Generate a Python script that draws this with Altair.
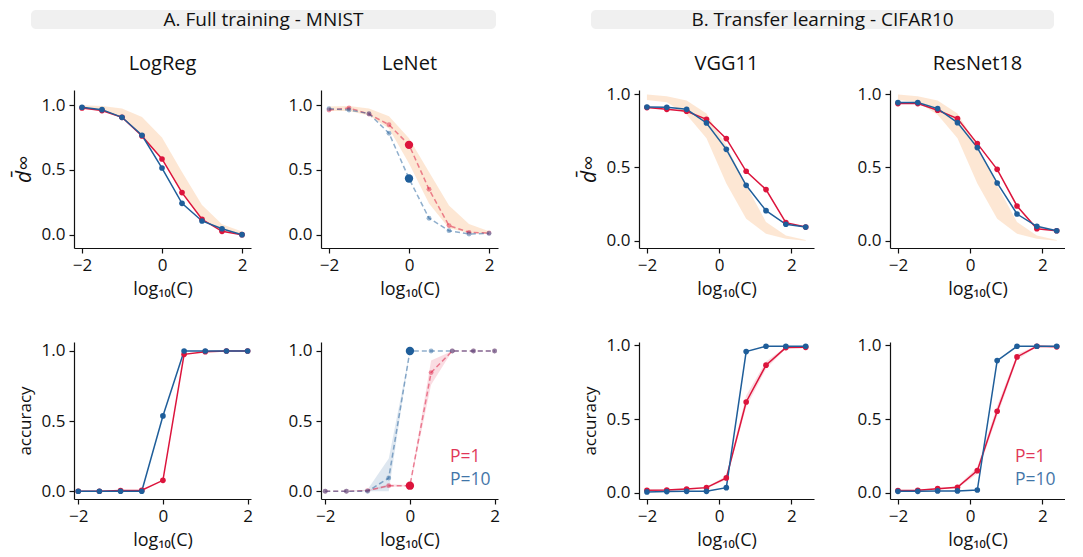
import altair as alt
import pandas as pd

FONT = "Open Sans"
RED = "#dc143c"
BLUE = "#1f5e9a"
ORANGE = "#fde4cf"
HEADER_BG = "#f0f0f0"

# x positions (log10 C)
xA = [-2, -1.5, -1, -0.5, 0, 0.5, 1, 1.5, 2]
xB = [-2, -1.45, -0.9, -0.35, 0.2, 0.75, 1.3, 1.85, 2.4]

# ---- A. Full training - MNIST ----
logreg_d_p1 = [0.979, 0.959, 0.907, 0.763, 0.585, 0.325, 0.119, 0.026, 0.0]
logreg_d_p10 = [0.985, 0.966, 0.907, 0.768, 0.515, 0.242, 0.106, 0.046, 0.0]
logreg_band_lo = [0.975, 0.955, 0.9, 0.76, 0.58, 0.32, 0.11, 0.03, 0.0]
logreg_band_hi = [1.0, 0.995, 0.975, 0.91, 0.75, 0.485, 0.23, 0.08, 0.025]

lenet_d_p1 = [0.964, 0.979, 0.932, 0.849, 0.694, 0.351, 0.07, 0.018, 0.013]
lenet_d_p10 = [0.974, 0.964, 0.935, 0.784, 0.434, 0.127, 0.031, 0.005, 0.01]
lenet_band_lo = [0.955, 0.955, 0.92, 0.82, 0.55, 0.24, 0.05, 0.012, 0.008]
lenet_band_hi = [0.99, 0.995, 0.975, 0.915, 0.745, 0.485, 0.226, 0.083, 0.026]

logreg_acc_p1 = [0.0, 0.0, 0.005, 0.007, 0.078, 0.976, 0.995, 1.0, 1.0]
logreg_acc_p10 = [0.0, 0.0, 0.0, 0.0, 0.537, 1.0, 1.0, 1.0, 1.0]

lenet_acc_p1 = [0.0, 0.0, 0.005, 0.04, 0.04, 0.846, 1.0, 1.0, 1.0]
lenet_acc_p10 = [0.0, 0.0, 0.0, 0.095, 1.0, 1.0, 1.0, 1.0, 1.0]
lenet_acc_p1_lo = [0.0, 0.0, 0.0, 0.03, 0.035, 0.76, 1.0, 1.0, 1.0]
lenet_acc_p1_hi = [0.0, 0.0, 0.01, 0.05, 0.045, 0.933, 1.0, 1.0, 1.0]
lenet_acc_p10_lo = [0.0, 0.0, 0.0, 0.0, 1.0, 1.0, 1.0, 1.0, 1.0]
lenet_acc_p10_hi = [0.0, 0.0, 0.012, 0.233, 1.0, 1.0, 1.0, 1.0, 1.0]

# ---- B. Transfer learning - CIFAR10 ----
cifar_band_lo = [0.96, 0.945, 0.86, 0.70, 0.39, 0.15, 0.048, 0.014, 0.0]
cifar_band_hi = [0.998, 0.986, 0.957, 0.868, 0.651, 0.378, 0.128, 0.036, 0.005]

vgg_d_p1 = [0.909, 0.897, 0.884, 0.829, 0.697, 0.474, 0.349, 0.123, 0.093]
vgg_d_p10 = [0.913, 0.911, 0.897, 0.804, 0.624, 0.378, 0.205, 0.112, 0.093]
resnet_d_p1 = [0.936, 0.936, 0.891, 0.834, 0.663, 0.487, 0.237, 0.082, 0.068]
resnet_d_p10 = [0.943, 0.943, 0.902, 0.806, 0.636, 0.394, 0.182, 0.098, 0.068]

vgg_acc_p1 = [0.018, 0.02, 0.027, 0.036, 0.102, 0.616, 0.865, 0.984, 0.986]
vgg_acc_p10 = [0.007, 0.009, 0.011, 0.011, 0.036, 0.957, 0.993, 0.993, 0.993]
vgg_acc_p1_lo = [0.014, 0.015, 0.022, 0.03, 0.09, 0.58, 0.84, 0.978, 0.982]
vgg_acc_p1_hi = [0.022, 0.025, 0.032, 0.042, 0.115, 0.66, 0.89, 0.99, 0.99]

resnet_acc_p1 = [0.016, 0.018, 0.029, 0.038, 0.151, 0.553, 0.921, 0.993, 0.989]
resnet_acc_p10 = [0.011, 0.011, 0.014, 0.014, 0.02, 0.896, 0.993, 0.993, 0.993]
resnet_acc_p1_lo = [0.012, 0.014, 0.024, 0.031, 0.13, 0.52, 0.9, 0.99, 0.985]
resnet_acc_p1_hi = [0.02, 0.022, 0.034, 0.045, 0.175, 0.59, 0.94, 0.996, 0.993]

series_names = ["P=1", "P=10"]
x_ticks = [-2, 0, 2]
y_ticks = [0, 0.5, 1.0]
x_title = "log₁₀(C)"

W_A, W_B = 177, 175
H_TOP, H_BOT = 158, 157


def make_panel(xs, p1, p10, xdom, ydom, w, h, title=None, ytitle=None,
               band=None, band1=None, band10=None, dashed=False,
               legend_xy=None, header=None):
    rows = []
    for s, vals in zip(series_names, (p1, p10)):
        for x, y in zip(xs, vals):
            rows.append({"x": x, "y": y, "s": s, "hl": bool(dashed and x == 0)})
    df = pd.DataFrame(rows)

    is_d = bool(ytitle) and ytitle != "accuracy"
    xsc = alt.Scale(domain=xdom, nice=False, zero=False)
    ysc = alt.Scale(domain=ydom, nice=False, zero=False)
    xax = alt.Axis(values=x_ticks, format="d", title=x_title, titleFontSize=18)
    yax = alt.Axis(values=y_ticks, format=".1f", title=ytitle,
                   titleFontStyle="italic" if is_d else "normal",
                   titleFontSize=21 if is_d else 17)
    xenc = alt.X("x:Q", scale=xsc, axis=xax)
    color = alt.Color("s:N", scale=alt.Scale(domain=series_names, range=[RED, BLUE]), legend=None)

    layers = []
    if band is not None:
        bdf = pd.DataFrame({"x": xs, "lo": band[0], "hi": band[1]})
        layers.append(alt.Chart(bdf).mark_area(color=ORANGE, opacity=0.9).encode(
            x=xenc, y=alt.Y("lo:Q", scale=ysc, axis=yax), y2="hi:Q"))
    for bb, col in ((band1, RED), (band10, BLUE)):
        if bb is not None:
            bdf = pd.DataFrame({"x": xs, "lo": bb[0], "hi": bb[1]})
            layers.append(alt.Chart(bdf).mark_area(color=col, opacity=0.15).encode(
                x=xenc, y=alt.Y("lo:Q", scale=ysc, axis=yax), y2="hi:Q"))

    yenc = alt.Y("y:Q", scale=ysc, axis=yax)
    if dashed:
        line = alt.Chart(df).mark_line(strokeWidth=1.5, strokeDash=[5, 3], opacity=0.5).encode(
            x=xenc, y=yenc, color=color, detail="s:N")
        pts = alt.Chart(df).mark_circle().encode(
            x=xenc, y=yenc, color=color,
            size=alt.condition("datum.hl", alt.value(70), alt.value(24)),
            opacity=alt.condition("datum.hl", alt.value(1.0), alt.value(0.45)))
    else:
        line = alt.Chart(df).mark_line(strokeWidth=1.5).encode(
            x=xenc, y=yenc, color=color, detail="s:N")
        pts = alt.Chart(df).mark_circle(size=32, opacity=1).encode(
            x=xenc, y=yenc, color=color)
    layers += [line, pts]

    if legend_xy is not None:
        lx, ly = legend_xy
        for i, (s, col) in enumerate(zip(series_names, (RED, BLUE))):
            ldf = pd.DataFrame({"s": [s]})
            layers.append(alt.Chart(ldf).mark_text(
                align="left", baseline="middle", font=FONT, fontSize=17.5,
                opacity=0.85, color=col).encode(
                x=alt.value(lx), y=alt.value(ly + 23 * i), text="s:N"))

    if title:
        tdf = pd.DataFrame({"t": [title]})
        layers.append(alt.Chart(tdf).mark_text(
            font=FONT, fontSize=20, color="#111", baseline="middle", align="center").encode(
            x=alt.value(w / 2), y=alt.value(-26), text="t:N"))

    if header is not None:
        htext, hx0, hx1 = header
        hdf = pd.DataFrame({"t": [htext]})
        layers.append(alt.Chart(hdf).mark_rect(color=HEADER_BG, cornerRadius=5).encode(
            x=alt.value(hx0), x2=alt.value(hx1), y=alt.value(-80), y2=alt.value(-61)))
        layers.append(alt.Chart(hdf).mark_text(
            font=FONT, fontSize=19, color="#111", baseline="middle", align="center").encode(
            x=alt.value((hx0 + hx1) / 2), y=alt.value(-70), text="t:N"))

    return alt.layer(*layers).properties(width=w, height=h)


def spacer(w, h=10):
    return alt.Chart(pd.DataFrame({"a": [0]})).mark_point(opacity=0).properties(width=w, height=h)


xdomA_top = [-2.2, 2.225]
xdomA_bot = [-2.1, 2.08]
xdomB = [-2.22, 2.63]
ydomA_top = [-0.103, 1.118]
ydomB_top = [-0.05, 1.029]
ydomA_bot = [-0.055, 1.064]
ydomB_bot = [-0.041, 1.022]

d_title = "d̄∞"

A1t = make_panel(xA, logreg_d_p1, logreg_d_p10, xdomA_top, ydomA_top, W_A, H_TOP,
                 title="LogReg", ytitle=d_title, band=(logreg_band_lo, logreg_band_hi),
                 header=("A. Full training - MNIST", -43, 422))
A2t = make_panel(xA, lenet_d_p1, lenet_d_p10, xdomA_top, ydomA_top, W_A, H_TOP,
                 title="LeNet", band=(lenet_band_lo, lenet_band_hi), dashed=True)
B1t = make_panel(xB, vgg_d_p1, vgg_d_p10, xdomB, ydomB_top, W_B, H_TOP,
                 title="VGG11", ytitle=d_title, band=(cifar_band_lo, cifar_band_hi),
                 header=("B. Transfer learning - CIFAR10", -48, 415))
B2t = make_panel(xB, resnet_d_p1, resnet_d_p10, xdomB, ydomB_top, W_B, H_TOP,
                 title="ResNet18", band=(cifar_band_lo, cifar_band_hi))

A1b = make_panel(xA, logreg_acc_p1, logreg_acc_p10, xdomA_bot, ydomA_bot, W_A, H_BOT,
                 ytitle="accuracy")
A2b = make_panel(xA, lenet_acc_p1, lenet_acc_p10, xdomA_bot, ydomA_bot, W_A, H_BOT,
                 band1=(lenet_acc_p1_lo, lenet_acc_p1_hi),
                 band10=(lenet_acc_p10_lo, lenet_acc_p10_hi), dashed=True,
                 legend_xy=(129, 115))
B1b = make_panel(xB, vgg_acc_p1, vgg_acc_p10, xdomB, ydomB_bot, W_B, H_BOT,
                 ytitle="accuracy", band1=(vgg_acc_p1_lo, vgg_acc_p1_hi))
B2b = make_panel(xB, resnet_acc_p1, resnet_acc_p10, xdomB, ydomB_bot, W_B, H_BOT,
                 band1=(resnet_acc_p1_lo, resnet_acc_p1_hi), legend_xy=(125, 115))

cells = [A1t, spacer(70), A2t, spacer(141), B1t, spacer(76), B2t,
         A1b, spacer(70), A2b, spacer(141), B1b, spacer(76), B2b]

chart = alt.concat(*cells, columns=7, spacing={"row": 94, "column": 0},
                   bounds="flush", align="each").properties(
    padding={"left": 5, "top": 2, "right": 0, "bottom": 4}
).configure_view(stroke=None).configure_axis(
    domainColor="#111", tickColor="#111", labelColor="#111", titleColor="#111",
    labelFont=FONT, titleFont=FONT, labelFontSize=17, titleFontSize=17,
    titleFontWeight="normal", grid=False, tickSize=5, domainWidth=1.2, tickWidth=1.2,
    labelPadding=4, titlePadding=7
)

chart.save("out.html", embed_options={"renderer": "svg", "actions": False})
